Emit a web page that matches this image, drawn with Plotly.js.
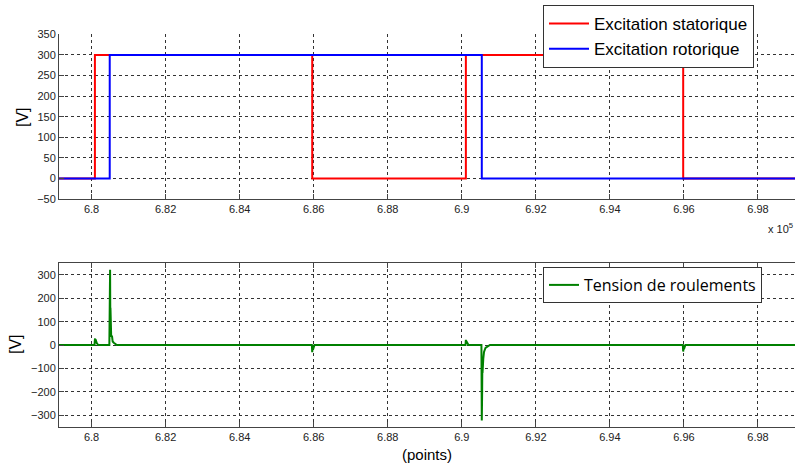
<!DOCTYPE html>
<html><head><meta charset="utf-8">
<script src="https://cdn.plot.ly/plotly-3.0.1.min.js"></script>
<style>html,body{margin:0;padding:0;background:#fff}#g{width:795px;height:463px}</style>
</head><body><div id="g"></div>
<script>
// x values in units of 1e5 points
const statX = [6.7912, 6.8009, 6.8596, 6.9011, 6.9598, 6.99];
const statY = [0, 300, 0, 300, 0, 0];
const rotX = [6.7912, 6.8049, 6.9054, 6.99];
const rotY = [0, 300, 0, 0];
const tensX = [6.7912,
  6.8008, 6.8009, 6.80095, 6.8010, 6.8012, 6.8014, 6.8016, 6.8018,
  6.8048, 6.8049, 6.80495, 6.8050, 6.80505, 6.8051, 6.80515, 6.8052, 6.8053, 6.8055, 6.8057, 6.8060, 6.8064, 6.8068,
  6.8595, 6.8596, 6.8597, 6.8598, 6.8600, 6.8602,
  6.9010, 6.9011, 6.9012, 6.9014, 6.9016, 6.9018,
  6.9053, 6.9054, 6.90545, 6.9055, 6.90555, 6.9056, 6.9058, 6.9060, 6.9064, 6.9070, 6.9076,
  6.9597, 6.9598, 6.9599, 6.9600, 6.9602, 6.9604,
  6.99];
const tensY = [0,
  0, 25, 28, 15, 18, 8, 4, 0,
  0, 190, 100, 322, 140, 160, 60, 80, 35, 40, 15, 10, 3, 0,
  0, -31, -10, -20, -5, 0,
  0, 22, 8, 12, 3, 0,
  0, -323, -100, -200, -80, -120, -60, -30, -12, -4, 0,
  0, -28, -10, -18, -4, 0,
  0];
const xTicks = [6.8, 6.82, 6.84, 6.86, 6.88, 6.9, 6.92, 6.94, 6.96, 6.98];
const xTickText = ['6.8','6.82','6.84','6.86','6.88','6.9','6.92','6.94','6.96','6.98'];
const yTicksTop = [-50, 0, 50, 100, 150, 200, 250, 300, 350];
const yTicksBot = [-300, -200, -100, 0, 100, 200, 300];

const tickFont = {family: 'Liberation Sans, Arial, sans-serif', size: 11, color: '#222'};
const common = {
  showgrid: true, griddash: '3px,3px', gridcolor: '#333', gridwidth: 1,
  zeroline: false, showline: true, linecolor: '#444', linewidth: 1,
  ticks: 'inside', ticklen: 5, tickcolor: '#444', tickfont: tickFont, automargin: false
};

const traces = [
  {x: statX, y: statY, mode: 'lines', line: {shape: 'hv', color: '#ff0000', width: 2}, name: 'Excitation statorique', xaxis: 'x', yaxis: 'y', legend: 'legend'},
  {x: rotX, y: rotY, mode: 'lines', line: {shape: 'hv', color: '#0000ff', width: 2}, name: 'Excitation rotorique', xaxis: 'x', yaxis: 'y', legend: 'legend'},
  {x: tensX, y: tensY, mode: 'lines', line: {color: '#008000', width: 2}, name: 'Tension de roulements', xaxis: 'x2', yaxis: 'y2', legend: 'legend2'}
];

const layout = {
  width: 795, height: 463,
  margin: {l: 59, r: 0, t: 0, b: 0},
  paper_bgcolor: '#fff', plot_bgcolor: '#fff',
  showlegend: true,
  xaxis: Object.assign({}, common, {domain: [0, 1], range: [6.7912, 6.99], tickvals: xTicks, ticktext: xTickText, anchor: 'y'}),
  yaxis: Object.assign({}, common, {domain: [0.5702, 0.9259], range: [-50, 350], tickvals: yTicksTop, anchor: 'x'}),
  xaxis2: Object.assign({}, common, {domain: [0, 1], range: [6.7912, 6.99], tickvals: xTicks, ticktext: xTickText, anchor: 'y2', mirror: 'ticks'}),
  yaxis2: Object.assign({}, common, {domain: [0.0784, 0.4313], range: [-350, 350], tickvals: yTicksBot, anchor: 'x2'}),
  legend: {x: (543-59)/736, xanchor: 'left', y: 1 - 5/463, yanchor: 'top', bgcolor: '#fff', bordercolor: '#333', borderwidth: 1,
    itemwidth: 40, font: {family: 'Liberation Sans, Arial, sans-serif', size: 17, color: '#000'}, tracegroupgap: 0},
  legend2: {x: (543-59)/736, xanchor: 'left', y: 1 - 267/463, yanchor: 'top', bgcolor: '#fff', bordercolor: '#333', borderwidth: 1,
    font: {family: 'Open Sans, sans-serif', size: 16, color: '#000'}},
  annotations: [
    {text: 'x 10<sup>5</sup>', xref: 'paper', yref: 'paper', x: 1, xanchor: 'right', y: 1 - 228/463, yanchor: 'middle', showarrow: false,
      font: {family: 'Liberation Sans, Arial, sans-serif', size: 11, color: '#222'}},
    {text: '[V]', xref: 'paper', yref: 'paper', x: (22-59)/736, xanchor: 'center', y: 1 - 117/463, yanchor: 'middle', textangle: -90, showarrow: false,
      font: {family: 'Liberation Sans, Arial, sans-serif', size: 16, color: '#000'}},
    {text: '[V]', xref: 'paper', yref: 'paper', x: (15-59)/736, xanchor: 'center', y: 1 - 344/463, yanchor: 'middle', textangle: -90, showarrow: false,
      font: {family: 'Liberation Sans, Arial, sans-serif', size: 16, color: '#000'}},
    {text: '(points)', xref: 'paper', yref: 'paper', x: (427-59)/736, xanchor: 'center', y: 1 - 454/463, yanchor: 'middle', showarrow: false,
      font: {family: 'Liberation Sans, Arial, sans-serif', size: 15, color: '#000'}}
  ]
};
Plotly.newPlot('g', traces, layout, {staticPlot: true, displayModeBar: false});
</script></body></html>
